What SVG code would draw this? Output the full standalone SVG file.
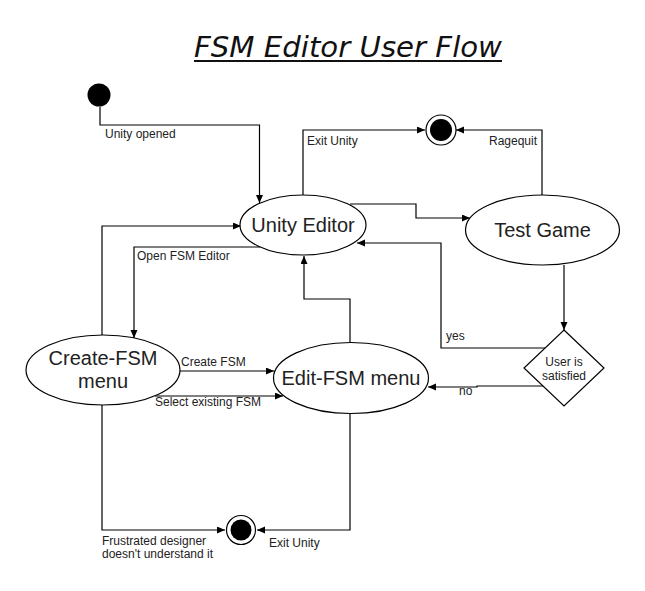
<svg xmlns="http://www.w3.org/2000/svg" width="645" height="591" viewBox="0 0 645 591">
<defs>
<marker id="arr" markerUnits="userSpaceOnUse" markerWidth="10" markerHeight="8" refX="8" refY="3.5" orient="auto">
<path d="M0,0 L8,3.5 L0,7 z" fill="#000"/>
</marker>
<style>
.node{fill:#fff;stroke:#000;stroke-width:1.2}
.big{font-family:"Liberation Sans",Arial,sans-serif;font-size:20px;fill:#222;text-anchor:middle}
.lbl{font-family:"Liberation Sans",Arial,sans-serif;font-size:12px;fill:#222}
.edge{fill:none;stroke:#000;stroke-width:1.2;marker-end:url(#arr)}
</style>
</defs>
<rect width="645" height="591" fill="#fff"/>
<g id="title">
<text x="348" y="57" font-family="DejaVu Sans, Verdana, sans-serif" font-style="italic" font-size="28" textLength="308" lengthAdjust="spacingAndGlyphs" text-anchor="middle" fill="#111">FSM Editor User Flow</text>
<line x1="194" y1="61" x2="502" y2="61" stroke="#111" stroke-width="2"/>
</g>
<g id="connectors">
<path class="edge" d="M100,107 V125 H259.5 V203"/>
<path class="edge" d="M303,195 V130 H425"/>
<path class="edge" d="M542,195 V130 H456"/>
<path class="edge" d="M350,204 H416 V218 H470"/>
<path class="edge" d="M545,348 H441 V243 H357"/>
<path class="edge" d="M564,265 V330"/>
<path class="edge" d="M544,386 H477 V387 H428"/>
<path class="edge" d="M350,343 V299 H304 V256"/>
<path class="edge" d="M350,413 V530 H257"/>
<path class="edge" d="M102,335 V226 H241"/>
<path class="edge" d="M260,247 H134 V338"/>
<path class="edge" d="M180,371 H274"/>
<path class="edge" d="M155,396 H283"/>
<path class="edge" d="M102,405 V530 H225"/>
<text class="lbl" x="105" y="138">Unity opened</text>
<text class="lbl" x="307" y="145">Exit Unity</text>
<text class="lbl" x="489" y="145">Ragequit</text>
<text class="lbl" x="137" y="260">Open FSM Editor</text>
<text class="lbl" x="446" y="340">yes</text>
<text class="lbl" x="459" y="395">no</text>
<text class="lbl" x="181" y="366">Create FSM</text>
<text class="lbl" x="155" y="406">Select existing FSM</text>
<text class="lbl" x="102" y="545">Frustrated designer</text>
<text class="lbl" x="102" y="558">doesn't understand it</text>
<text class="lbl" x="269" y="547">Exit Unity</text>
</g>
<g id="start"><circle cx="99" cy="95" r="11.5" fill="#000"/></g>
<g id="end-top"><circle cx="441" cy="130" r="15" class="node"/><circle cx="441" cy="130" r="11" fill="#000"/></g>
<g id="end-bottom"><circle cx="241" cy="530" r="14.5" class="node"/><circle cx="241" cy="530" r="10.5" fill="#000"/></g>
<g id="unity-editor"><ellipse cx="303" cy="225" rx="63" ry="30" class="node"/><text class="big" x="303" y="232">Unity Editor</text></g>
<g id="test-game"><ellipse cx="542.5" cy="230" rx="77" ry="35" class="node"/><text class="big" x="542.5" y="237">Test Game</text></g>
<g id="create-fsm"><ellipse cx="103" cy="370" rx="77" ry="35" class="node"/><text class="big" x="103" y="365">Create-FSM</text><text class="big" x="103" y="388">menu</text></g>
<g id="edit-fsm"><ellipse cx="351" cy="378" rx="77.5" ry="35.5" class="node"/><text class="big" x="351" y="385">Edit-FSM menu</text></g>
<g id="decision"><polygon points="564,330 604,368 564,406 524,368" class="node"/><text class="lbl" x="564" y="366" text-anchor="middle">User is</text><text class="lbl" x="564" y="380" text-anchor="middle">satisfied</text></g>
</svg>
